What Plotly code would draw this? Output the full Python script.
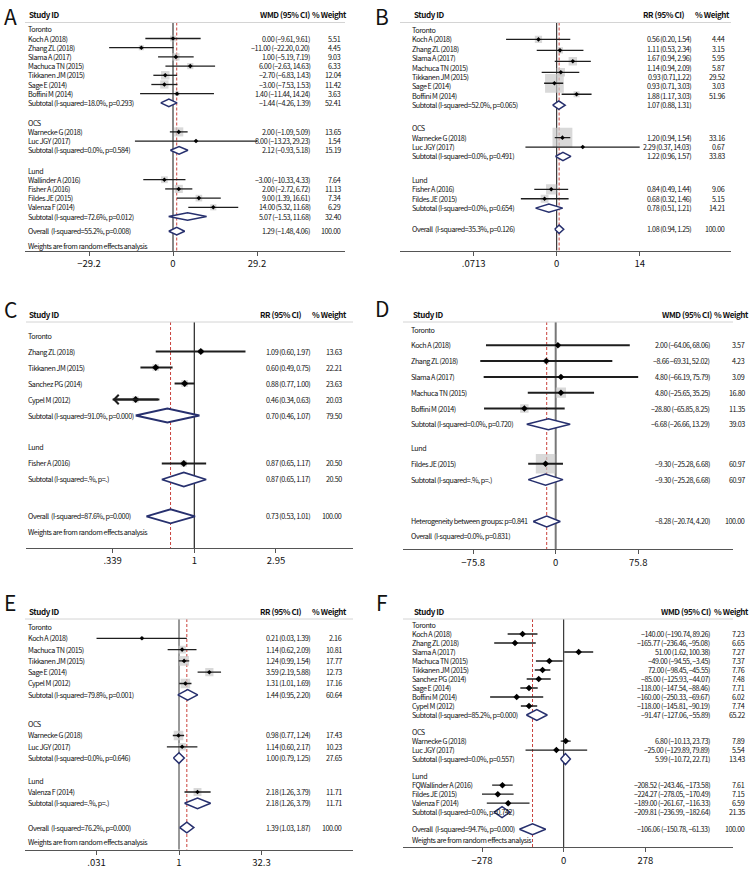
import math
import plotly.graph_objects as go

W, H = 756, 876
FONT = "Noto Sans CJK SC, Source Sans Pro, Liberation Sans Narrow, sans-serif"
TXT = "#111"

# ---------------- Panel A (WMD) ----------------
A_label = ["Toronto", "Koch A (2018)", "Zhang ZL (2018)", "Slama A (2017)", "Machuca TN (2015)",
           "Tikkanen JM (2015)", "Sage E (2014)", "Boffini M (2014)", "Subtotal (I-squared=18.0%, p=0.293)",
           "OCS", "Warnecke G (2018)", "Luc JGY (2017)", "Subtotal (I-squared=0.0%, p=0.584)",
           "Lund", "Wallinder A (2016)", "Fisher A (2016)", "Fildes JE (2015)", "Valenza F (2014)",
           "Subtotal (I-squared=72.6%, p=0.012)", "Overall\u00a0 (I-squared=55.2%, p=0.008)",
           "Weights are from random effects analysis"]
A_kind = ["g", "s", "s", "s", "s", "s", "s", "s", "t", "g", "s", "s", "t", "g", "s", "s", "s", "s", "t", "o", "n"]
A_est = [None, 0.00, -11.00, 1.00, 6.00, -2.70, -3.00, 1.40, -1.44, None, 2.00, 8.00, 2.12, None,
         -3.00, 2.00, 9.00, 14.00, 5.07, 1.29, None]
A_lo = [None, -9.61, -22.20, -5.19, -2.63, -6.83, -7.53, -11.44, -4.26, None, -1.09, -13.23, -0.93, None,
        -10.33, -2.72, 1.39, 5.32, -1.53, -1.48, None]
A_hi = [None, 9.61, 0.20, 7.19, 14.63, 1.43, 1.53, 14.24, 1.39, None, 5.09, 29.23, 5.18, None,
        4.33, 6.72, 16.61, 22.68, 11.68, 4.06, None]
A_w = [None, 5.51, 4.45, 9.03, 6.33, 12.04, 11.42, 3.63, None, None, 13.65, 1.54, None, None,
       7.64, 11.13, 7.34, 6.29, None, None, None]
A_ci = ["", "0.00 (−9.61, 9.61)", "−11.00 (−22.20, 0.20)", "1.00 (−5.19, 7.19)", "6.00 (−2.63, 14.63)",
        "−2.70 (−6.83, 1.43)", "−3.00 (−7.53, 1.53)", "1.40 (−11.44, 14.24)", "−1.44 (−4.26, 1.39)", "",
        "2.00 (−1.09, 5.09)", "8.00 (−13.23, 29.23)", "2.12 (−0.93, 5.18)", "",
        "−3.00 (−10.33, 4.33)", "2.00 (−2.72, 6.72)", "9.00 (1.39, 16.61)", "14.00 (5.32, 11.68)",
        "5.07 (−1.53, 11.68)", "1.29 (−1.48, 4.06)", ""]
A_wt = ["", "5.51", "4.45", "9.03", "6.33", "12.04", "11.42", "3.63", "52.41", "", "13.65", "1.54", "15.19",
        "", "7.64", "11.13", "7.34", "6.29", "32.40", "100.00", ""]
A_ticks = [-29.2, 0, 29.2]
A_ticktxt = ["−29.2", "0", "29.2"]

# ---------------- Panel B (RR) ----------------
B_label = ["Toronto", "Koch A (2018)", "Zhang ZL (2018)", "Slama A (2017)", "Machuca TN (2015)",
           "Tikkanen JM (2015)", "Sage E (2014)", "Boffini M (2014)", "Subtotal (I-squared=52.0%, p=0.065)",
           "OCS", "Warnecke G (2018)", "Luc JGY (2017)", "Subtotal (I-squared=0.0%, p=0.491)",
           "Lund", "Fisher A (2016)", "Fildes JE (2015)", "Subtotal (I-squared=0.0%, p=0.654)",
           "Overall\u00a0 (I-squared=35.3%, p=0.126)"]
B_kind = ["g", "s", "s", "s", "s", "s", "s", "s", "t", "g", "s", "s", "t", "g", "s", "s", "t", "o"]
B_est = [None, 0.56, 1.11, 1.67, 1.14, 0.93, None, 1.88, 1.07, None, 1.20, 2.29, 1.22, None, 0.84, 0.68, 0.78, 1.08]
B_lo = [None, 0.20, 0.53, 0.94, 0.62, 0.67, None, 1.17, 0.88, None, 0.94, 0.37, 0.96, None, 0.49, 0.32, 0.51, 0.94]
B_hi = [None, 1.54, 2.34, 2.96, 2.05, 1.23, None, 3.03, 1.31, None, 1.54, 14.03, 1.57, None, 1.44, 1.46, 1.21, 1.25]
B_w = [None, 4.44, 3.15, 5.95, 5.87, 29.52, None, 3.03, None, None, 33.16, 0.67, None, None, 9.06, 5.15, None, None]
B_ci = ["", "0.56 (0.20, 1.54)", "1.11 (0.53, 2.34)", "1.67 (0.94, 2.96)", "1.14 (0.94, 2.09)",
        "0.93 (0.71,1.22)", "0.93 (0.71, 3.03)", "1.88 (1.17, 3.03)", "1.07 (0.88, 1.31)", "",
        "1.20 (0.94, 1.54)", "2.29 (0.37, 14.03)", "1.22 (0.96, 1.57)", "",
        "0.84 (0.49, 1.44)", "0.68 (0.32, 1.46)", "0.78 (0.51, 1.21)", "1.08 (0.94, 1.25)"]
B_wt = ["", "4.44", "3.15", "5.95", "5.87", "29.52", "3.03", "51.96", "", "", "33.16", "0.67", "33.83",
        "", "9.06", "5.15", "14.21", "100.00"]
B_ticks = [0.0713, 1, 14]
B_ticktxt = [".0713", "0", "14"]

# ---------------- Panel C (RR) ----------------
C_label = ["Toronto", "Zhang ZL (2018)", "Tikkanen JM (2015)", "Sanchez PG (2014)", "Cypel M (2012)",
           "Subtotal (I-squared=91.0%, p=0.000)", "Lund", "Fisher A (2016)", "Subtotal (I-squared=.%, p=.)",
           "Overall\u00a0 (I-squared=87.6%, p=0.000)", "Weights are from random effects analysis"]
C_kind = ["g", "s", "s", "s", "s", "t", "g", "s", "t", "o", "n"]
C_est = [None, 1.09, 0.60, 0.88, 0.46, 0.70, None, 0.87, 0.87, 0.73, None]
C_lo = [None, 0.60, 0.49, 0.77, 0.33, 0.46, None, 0.65, 0.65, 0.53, None]
C_hi = [None, 1.97, 0.75, 1.00, 0.63, 1.07, None, 1.17, 1.17, 1.01, None]
C_w = [None, 13.63, 22.21, 23.63, 20.03, None, None, 20.50, None, None, None]
C_ci = ["", "1.09 (0.60, 1.97)", "0.60 (0.49, 0.75)", "0.88 (0.77, 1.00)", "0.46 (0.34, 0.63)",
        "0.70 (0.46, 1.07)", "", "0.87 (0.65, 1.17)", "0.87 (0.65, 1.17)", "0.73 (0.53, 1.01)", ""]
C_wt = ["", "13.63", "22.21", "23.63", "20.03", "79.50", "", "20.50", "20.50", "100.00", ""]
C_ticks = [0.339, 1, 2.95]
C_ticktxt = [".339", "1", "2.95"]

# ---------------- Panel D (WMD) ----------------
D_label = ["Toronto", "Koch A (2018)", "Zhang ZL (2018)", "Slama A (2017)", "Machuca TN (2015)",
           "Boffini M (2014)", "Subtotal (I-squared=0.0%, p=0.720)", "Lund", "Fildes JE (2015)",
           "Subtotal (I-squared=.%, p=.)", "Heterogeneity between groups: p=0.841",
           "Overall\u00a0 (I-squared=0.0%, p=0.831)"]
D_kind = ["g", "s", "s", "s", "s", "s", "t", "g", "s", "t", "o", "n"]
D_est = [None, 2.00, -8.66, 4.80, 4.80, -28.80, -6.68, None, -9.30, -9.30, -8.28, None]
D_lo = [None, -64.06, -69.31, -66.19, -25.65, -65.85, -26.66, None, -25.28, -25.28, -20.74, None]
D_hi = [None, 68.06, 52.02, 75.79, 35.25, 8.25, 13.29, None, 6.68, 6.68, 4.20, None]
D_w = [None, 3.57, 4.23, 3.09, 16.80, 11.35, None, None, 60.97, None, None, None]
D_ci = ["", "2.00 (−64.06, 68.06)", "−8.66 −69.31, 52.02)", "4.80 (−66.19, 75.79)", "4.80 (−25.65, 35.25)",
        "−28.80 (−65.85, 8.25)", "−6.68 (−26.66, 13.29)", "", "−9.30 (−25.28, 6.68)",
        "−9.30 (−25.28, 6.68)", "−8.28 (−20.74, 4.20)", ""]
D_wt = ["", "3.57", "4.23", "3.09", "16.80", "11.35", "39.03", "", "60.97", "60.97", "100.00", ""]
D_ticks = [-75.8, 0, 75.8]
D_ticktxt = ["−75.8", "0", "75.8"]

# ---------------- Panel E (RR) ----------------
E_label = ["Toronto", "Koch A (2018)", "Machuca TN (2015)", "Tikkanen JM (2015)", "Sage E (2014)",
           "Cypel M (2012)", "Subtotal (I-squared=79.8%, p=0.001)", "OCS", "Warnecke G (2018)",
           "Luc JGY (2017)", "Subtotal (I-squared=0.0%, p=0.646)", "Lund", "Valenza F (2014)",
           "Subtotal (I-squared=.%, p=.)", "Overall\u00a0 (I-squared=76.2%, p=0.000)",
           "Weights are from random effects analysis"]
E_kind = ["g", "s", "s", "s", "s", "s", "t", "g", "s", "s", "t", "g", "s", "t", "o", "n"]
E_est = [None, 0.21, 1.14, 1.24, 3.59, 1.31, 1.44, None, 0.98, 1.14, 1.00, None, 2.18, 2.18, 1.39, None]
E_lo = [None, 0.031, 0.62, 0.99, 2.19, 1.01, 0.95, None, 0.77, 0.60, 0.79, None, 1.26, 1.26, 1.03, None]
E_hi = [None, 1.39, 2.09, 1.54, 5.88, 1.69, 2.20, None, 1.24, 2.17, 1.25, None, 3.79, 3.79, 1.87, None]
E_w = [None, 2.16, 10.81, 17.77, 12.73, 17.16, None, None, 17.43, 10.23, None, None, 11.71, None, None, None]
E_ci = ["", "0.21 (0.03, 1.39)", "1.14 (0.62, 2.09)", "1.24 (0.99, 1.54)", "3.59 (2.19, 5.88)",
        "1.31 (1.01, 1.69)", "1.44 (0.95, 2.20)", "", "0.98 (0.77, 1.24)", "1.14 (0.60, 2.17)",
        "1.00 (0.79, 1.25)", "", "2.18 (1.26, 3.79)", "2.18 (1.26, 3.79)", "1.39 (1.03, 1.87)", ""]
E_wt = ["", "2.16", "10.81", "17.77", "12.73", "17.16", "60.64", "", "17.43", "10.23", "27.65", "",
        "11.71", "11.71", "100.00", ""]
E_ticks = [0.031, 1, 32.3]
E_ticktxt = [".031", "1", "32.3"]

# ---------------- Panel F (WMD) ----------------
F_label = ["Toronto", "Koch A (2018)", "Zhang ZL (2018)", "Slama A (2017)", "Machuca TN (2015)",
           "Tikkanen JM (2015)", "Sanchez PG (2014)", "Sage E (2014)", "Boffini M (2014)", "Cypel M (2012)",
           "Subtotal (I-squared=85.2%, p=0.000)", "OCS", "Warnecke G (2018)", "Luc JGY (2017)",
           "Subtotal (I-squared=0.0%, p=0.557)", "Lund", "FQWallinder A (2016)", "Fildes JE (2015)",
           "Valenza F (2014)", "Subtotal (I-squared=0.0%, p=0.742)", "Overall\u00a0 (I-squared=94.7%, p=0.000)",
           "Weights are from random effects analysis"]
F_kind = ["g", "s", "s", "s", "s", "s", "s", "s", "s", "s", "t", "g", "s", "s", "t", "g", "s", "s", "s", "t", "o", "n"]
F_est = [None, -140.00, -165.77, 51.00, -49.00, -72.00, -85.00, -118.00, -160.00, -118.00, -91.47, None,
         6.80, -25.00, 5.99, None, -208.52, -224.27, -189.00, -209.81, -106.06, None]
F_lo = [None, -190.74, -236.46, 1.62, -94.55, -98.45, -125.93, -147.54, -250.33, -145.81, -127.06, None,
        -10.13, -129.89, -10.72, None, -243.46, -278.05, -261.67, -236.99, -150.78, None]
F_hi = [None, -89.26, -95.08, 100.38, -3.45, -45.55, -44.07, -88.46, -69.67, -90.19, -55.89, None,
        23.73, 79.89, 22.71, None, -173.58, -170.49, -116.33, -182.64, -61.33, None]
F_w = [None, 7.23, 6.65, 7.27, 7.37, 7.76, 7.48, 7.71, 6.02, 7.74, None, None, 7.89, 5.54, None, None,
       7.61, 7.15, 6.59, None, None, None]
F_ci = ["", "−140.00 (−190.74, 89.26)", "−165.77 (−236.46, −95.08)", "51.00 (1.62, 100.38)",
        "−49.00 (−94.55, −3.45)", "72.00 (−98.45, −45.55)", "−85.00 (−125.93, −44.07)",
        "−118.00 (−147.54, −88.46)", "−160.00 (−250.33, −69.67)", "−118.00 (−145.81, −90.19)",
        "−91.47 (−127.06, −55.89)", "", "6.80 (−10.13, 23.73)", "−25.00 (−129.89, 79.89)",
        "5.99 (−10.72, 22.71)", "", "−208.52 (−243.46, −173.58)", "−224.27 (−278.05, −170.49)",
        "−189.00 (−261.67, −116.33)", "−209.81 (−236.99, −182.64)", "−106.06 (−150.78, −61.33)", ""]
F_wt = ["", "7.23", "6.65", "7.27", "7.37", "7.76", "7.48", "7.71", "6.02", "7.74", "65.22", "", "7.89",
        "5.54", "13.43", "", "7.61", "7.15", "6.59", "21.35", "100.00", ""]
F_ticks = [-278, 0, 278]
F_ticktxt = ["−278", "0", "278"]

# ---------------- layout parameters (pixel geometry) ----------------
panels = [
    dict(letter="A", head="WMD (95% CI)", lab=A_label, kind=A_kind, est=A_est, lo=A_lo, hi=A_hi, w=A_w,
         ci=A_ci, wt=A_wt, ticks=A_ticks, tt=A_ticktxt, log=False,
         top=0, lx=10, ltop=0, hy=14.7, hl=22.5, vtop=22.5, y0=29.3, s=9.2, g=[2.15, 2.2], go=1.6, gn=1.65,
         ay=251, al=25, ar=345, ref=173, ppu=84 / 29.2, labx=26.7, cir=310.7, wtr=342.3, hcir=310.7, hwtr=347.7,
         bk=2.45, pt=3.5, lw=1.3, dh=3.8, zc="#111", zw=1),
    dict(letter="B", head="RR (95% CI)", lab=B_label, kind=B_kind, est=B_est, lo=B_lo, hi=B_hi, w=B_w,
         ci=B_ci, wt=B_wt, ticks=B_ticks, tt=B_ticktxt, log=True,
         top=0, lx=382, ltop=0, hy=14.7, hl=22.5, vtop=22.5, y0=30, s=9.4, g=[2.45, 2.5], go=2.25, gn=1.6,
         ay=250.7, al=400, ar=731, ref=556.7, ppu=31.45, labx=411.3, cir=692, wtr=725.7, hcir=686.3, hwtr=731.3,
         bk=3.45, pt=3.5, lw=1.3, dh=4.2, zc="#111", zw=1),
    dict(letter="C", head="RR (95% CI)", lab=C_label, kind=C_kind, est=C_est, lo=C_lo, hi=C_hi, w=C_w,
         ci=C_ci, wt=C_wt, ticks=C_ticks, tt=C_ticktxt, log=True,
         top=292, lx=10, ltop=293, hy=314.7, hl=322, vtop=322, y0=335.5, s=16, g=[2.0], go=2.3, gn=0.95,
         ay=548, al=26, ar=353, ref=194.3, ppu=75.5, labx=26.7, cir=310.7, wtr=343.3, hcir=303.3, hwtr=348.3,
         bk=1.4, pt=5.5, lw=2, dh=7, zc="#222", zw=1.2),
    dict(letter="D", head="WMD (95% CI)", lab=D_label, kind=D_kind, est=D_est, lo=D_lo, hi=D_hi, w=D_w,
         ci=D_ci, wt=D_wt, ticks=D_ticks, tt=D_ticktxt, log=False,
         top=292, lx=382, ltop=292, hy=314.7, hl=322, vtop=322, y0=329.5, s=15.8, g=[1.5], go=2.65, gn=0.9,
         ay=549.3, al=403, ar=733, ref=555.7, ppu=82.5 / 75.8, labx=410.3, cir=711.3, wtr=745.7, hcir=713,
         hwtr=750.3, bk=2.5, pt=5, lw=2, dh=5.5, zc="#777", zw=2),
    dict(letter="E", head="RR (95% CI)", lab=E_label, kind=E_kind, est=E_est, lo=E_lo, hi=E_hi, w=E_w,
         ci=E_ci, wt=E_wt, ticks=E_ticks, tt=E_ticktxt, log=True,
         top=584, lx=10, ltop=586, hy=611, hl=619, vtop=619, y0=627, s=11.3, g=[2.6, 2.0], go=2.15, gn=1.25,
         ay=849.7, al=25, ar=353, ref=179, ppu=23.74, labx=26.7, cir=310.7, wtr=343.3, hcir=302.7, hwtr=348.3,
         bk=2.3, pt=3.5, lw=1.3, dh=5.3, zc="#333", zw=1),
    dict(letter="F", head="WMD (95% CI)", lab=F_label, kind=F_kind, est=F_est, lo=F_lo, hi=F_hi, w=F_w,
         ci=F_ci, wt=F_wt, ticks=F_ticks, tt=F_ticktxt, log=False,
         top=584, lx=382, ltop=586, hy=611.3, hl=619, vtop=619, y0=625, s=9.0, g=[1.9, 1.9], go=1.9, gn=1.2,
         ay=847.3, al=403, ar=733, ref=563.7, ppu=81.7 / 278, labx=411.3, cir=711.3, wtr=745.7, hcir=712,
         hwtr=750.3, bk=1.5, pt=5, lw=1.3, dh=5.5, zc="#111", zw=1),
]


def row_positions(p):
    ys, gi, prev, y = [], 0, None, 0.0
    for i, k in enumerate(p["kind"]):
        if i == 0:
            y = p["y0"]
        elif k == "g":
            y += p["g"][min(gi, len(p["g"]) - 1)] * p["s"]
            gi += 1
        elif k == "o" and prev == "t":
            y += p["go"] * p["s"]
        elif k == "n":
            y += p["gn"] * p["s"]
        else:
            y += p["s"]
        ys.append(y)
        prev = k
    return ys


def mark_positions(p, ys):
    kind, est = p["kind"], p["est"]
    my = list(ys)
    n = len(kind)
    i = 0
    while i < n:
        if kind[i] == "g":
            j = i + 1
            studies = []
            while j < n and kind[j] == "s":
                studies.append(j)
                j += 1
            plotted = [r for r in studies if est[r] is not None]
            if plotted and j < n and len(plotted) < len(studies):
                step = (ys[j] - ys[studies[0]]) / len(plotted)
                for kk, r in enumerate(plotted):
                    my[r] = ys[studies[0]] + kk * step
            i = j
        else:
            i += 1
    return my


def ann(x, y, text, anchor, size, bold=False, color=TXT, ls=-0.45, yanchor="middle"):
    t = f"<b>{text}</b>" if bold else text
    if ls:
        t = f'<span style="letter-spacing:{ls}px">{t}</span>'
    return dict(xref="paper", yref="paper", x=x / W, y=1 - y / H, text=t,
                showarrow=False, xanchor=anchor, yanchor=yanchor, borderpad=0,
                font=dict(family=FONT, size=size, color=color))


fig = go.Figure()
annotations, shapes = [], []
LS = 7.2

for idx, p in enumerate(panels, start=1):
    xa = "x" if idx == 1 else f"x{idx}"
    ya = "y" if idx == 1 else f"y{idx}"
    ys = row_positions(p)
    my = mark_positions(p, ys)
    tmin, tmax = min(p["ticks"]), max(p["ticks"])

    def ax_coord(v):
        return math.log10(v) if p["log"] else v

    # axes
    if p["log"]:
        rng = [(p["al"] - p["ref"]) / p["ppu"] / math.log(10), (p["ar"] - p["ref"]) / p["ppu"] / math.log(10)]
        null = 1
    else:
        rng = [(p["al"] - p["ref"]) / p["ppu"], (p["ar"] - p["ref"]) / p["ppu"]]
        null = 0
    fig.layout[("xaxis" if idx == 1 else f"xaxis{idx}")] = dict(
        domain=[p["al"] / W, p["ar"] / W], range=rng, type=("log" if p["log"] else "linear"),
        anchor=ya, showgrid=False, zeroline=False, showline=True, linecolor="#555", linewidth=1,
        ticks="outside", ticklen=4, tickcolor="#555", tickmode="array", tickvals=p["ticks"], ticktext=p["tt"],
        tickfont=dict(family=FONT, size=9.5, color=TXT), fixedrange=True)
    fig.layout[("yaxis" if idx == 1 else f"yaxis{idx}")] = dict(
        domain=[1 - p["ay"] / H, 1 - p["top"] / H], range=[p["ay"], p["top"]], anchor=xa,
        visible=False, fixedrange=True)

    # boxes
    bx, byy, bs = [], [], []
    for r, k in enumerate(p["kind"]):
        if k == "s" and p["est"][r] is not None and p["w"][r] is not None:
            bx.append(p["est"][r]); byy.append(my[r]); bs.append(p["bk"] * math.sqrt(p["w"][r]))
    fig.add_trace(go.Scatter(x=bx, y=byy, xaxis=xa, yaxis=ya, mode="markers", hoverinfo="skip",
                             marker=dict(symbol="square", size=bs, color="#c9c9c9", line=dict(width=0))))

    # CI lines (clipped at the outer ticks; an arrow marks an off-scale limit)
    lx_, ly_, px_, py_ = [], [], [], []
    for r, k in enumerate(p["kind"]):
        if k == "s" and p["est"][r] is not None:
            lo, hi = p["lo"][r], p["hi"][r]
            off_lo = (lo < tmin / 1.01) if p["log"] else (lo < tmin - 0.01 * (tmax - tmin))
            lo_c, hi_c = max(lo, tmin), min(hi, tmax)
            if off_lo:
                annotations.append(dict(xref=xa, yref=ya, axref=xa, ayref=ya, x=ax_coord(lo_c), y=my[r],
                                        ax=ax_coord(hi_c), ay=my[r], text="", showarrow=True, arrowhead=4,
                                        arrowsize=0.9, arrowwidth=p["lw"], arrowcolor="#1e1e1e"))
            lx_ += [lo_c, hi_c, None]; ly_ += [my[r], my[r], None]
            px_.append(p["est"][r]); py_.append(my[r])
    fig.add_trace(go.Scatter(x=lx_, y=ly_, xaxis=xa, yaxis=ya, mode="lines", hoverinfo="skip",
                             line=dict(color="#1e1e1e", width=p["lw"])))
    fig.add_trace(go.Scatter(x=px_, y=py_, xaxis=xa, yaxis=ya, mode="markers", hoverinfo="skip",
                             marker=dict(symbol="diamond", size=p["pt"], color="#000", line=dict(width=0))))

    # pooled diamonds
    dx, dy = [], []
    for r, k in enumerate(p["kind"]):
        if k in ("t", "o") and p["est"][r] is not None:
            y = ys[r]
            dx += [p["lo"][r], p["est"][r], p["hi"][r], p["est"][r], p["lo"][r], None]
            dy += [y, y - p["dh"], y, y + p["dh"], y, None]
    fig.add_trace(go.Scatter(x=dx, y=dy, xaxis=xa, yaxis=ya, mode="lines", fill="toself",
                             fillcolor="white", hoverinfo="skip",
                             line=dict(color="#27306e", width=1.5 if p["dh"] < 6 else 1.8)))

    # reference lines
    overall = next(p["est"][r] for r, k in enumerate(p["kind"]) if k == "o")
    shapes.append(dict(type="line", xref=xa, yref=ya, x0=null, x1=null, y0=p["vtop"], y1=p["ay"],
                       line=dict(color=p["zc"], width=p["zw"]), layer="below"))
    shapes.append(dict(type="line", xref=xa, yref=ya, x0=overall, x1=overall, y0=p["vtop"], y1=p["ay"],
                       line=dict(color="#c9423c", width=1, dash="3px,2px"), layer="below"))
    shapes.append(dict(type="line", xref="paper", yref="paper", x0=p["al"] / W, x1=p["ar"] / W,
                       y0=1 - p["hl"] / H, y1=1 - p["hl"] / H, line=dict(color="#d4d4d4", width=1)))

    # texts
    annotations.append(ann(p["lx"], p["ltop"], p["letter"], "center", 21, color="#111", ls=0, yanchor="top"))
    annotations.append(ann(p["labx"] + 1.5, p["hy"], "Study ID", "left", 8.0, bold=True, ls=-0.4))
    annotations.append(ann(p["hcir"], p["hy"], p["head"], "right", 8.0, bold=True, ls=-0.4))
    annotations.append(ann(p["hwtr"], p["hy"], "% Weight", "right", 8.0, bold=True, ls=-0.4))
    for r, k in enumerate(p["kind"]):
        annotations.append(ann(p["labx"], ys[r], p["lab"][r], "left", LS))
        if p["ci"][r]:
            annotations.append(ann(p["cir"], ys[r], p["ci"][r], "right", LS))
        if p["wt"][r]:
            annotations.append(ann(p["wtr"], ys[r], p["wt"][r], "right", LS))

fig.update_layout(width=W, height=H, margin=dict(l=0, r=0, t=0, b=0), paper_bgcolor="white",
                  plot_bgcolor="rgba(0,0,0,0)", showlegend=False, annotations=annotations, shapes=shapes)
fig.write_html("out.html", config={"displayModeBar": False},
               post_script="document.body.style.margin='0';document.body.style.overflow='hidden';")
